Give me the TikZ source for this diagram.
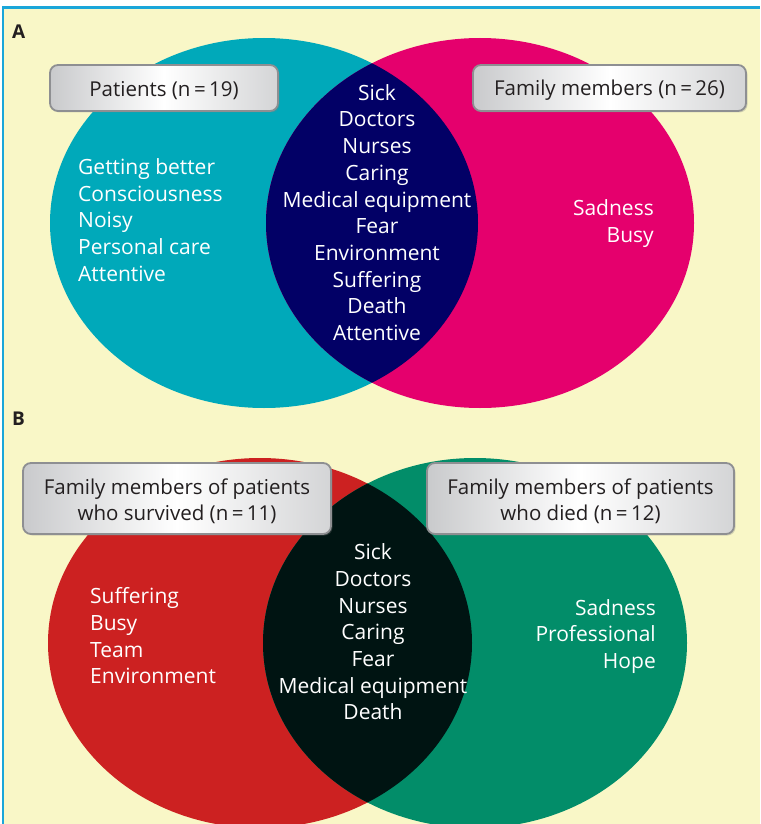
\documentclass[tikz,border=0pt]{standalone}
\usepackage{fontspec}
\setmainfont{Open Sans}
\usetikzlibrary{shadows}
\definecolor{bgyellow}{HTML}{F9F7C7}
\definecolor{frameblue}{HTML}{1AA6D9}
\definecolor{teal}{HTML}{00A9BA}
\definecolor{magenta}{HTML}{E5006D}
\definecolor{navy}{HTML}{020066}
\definecolor{redset}{HTML}{CC2121}
\definecolor{greenset}{HTML}{028D69}
\definecolor{darkset}{HTML}{001412}
\definecolor{boxedge}{HTML}{8E8F92}
\definecolor{boxgrey}{HTML}{C9CACC}
\definecolor{boxtext}{HTML}{231F20}
\tikzset{
  x=1pt, y=-1pt,
  labelbox/.style={draw=boxedge, line width=1.8pt, rounded corners=8pt,
    left color=boxgrey, right color=boxgrey!80, middle color=white,
    drop shadow={opacity=0.3, shadow xshift=1.5pt, shadow yshift=-1.5pt},
    text=boxtext, align=center, inner sep=0pt,
    font=\fontsize{20.5}{26}\selectfont},
  settext/.style={text=white, inner sep=0pt, font=\fontsize{21}{26.7}\selectfont},
  panel/.style={font=\fontsize{19}{22}\selectfont\bfseries, text=boxtext, inner sep=0pt}
}
\begin{document}
\begin{tikzpicture}
\useasboundingbox (0,0) rectangle (760,824);
\fill[white] (0,0) rectangle (760,824);
\fill[bgyellow] (2,7) rectangle (760,824);
\draw[frameblue, line width=2.5pt] (3,824) -- (3,7.5) -- (760,7.5);

% Panel A
\node[panel, anchor=base west] (lblA) at (12,39) {A};
\fill[teal] (264,223) ellipse [x radius=214, y radius=185];
\fill[magenta] (480,223) ellipse [x radius=214, y radius=185];
\begin{scope}
  \clip (264,223) ellipse [x radius=214, y radius=185];
  \fill[navy] (480,223) ellipse [x radius=214, y radius=185];
\end{scope}

% Panel B
\node[panel, anchor=base west] (lblB) at (12,425) {B};
\fill[redset] (260,643) ellipse [x radius=212, y radius=185];
\fill[greenset] (475,643) ellipse [x radius=212, y radius=185];
\begin{scope}
  \clip (260,643) ellipse [x radius=212, y radius=185];
  \fill[darkset] (475,643) ellipse [x radius=212, y radius=185];
\end{scope}

% Label boxes
\node[labelbox, minimum width=228, minimum height=46] (boxA1) at (164,88) {\raisebox{-2.5pt}[\height][\depth]{Patients (n\,=\,19)}};
\node[labelbox, minimum width=273, minimum height=46] (boxA2) at (609.5,88) {\raisebox{-2.5pt}[\height][\depth]{Family members (n\,=\,26)}};
\node[labelbox, minimum width=308, minimum height=71] (boxB1) at (177,498.5) {\raisebox{-3.5pt}[\height][\depth]{\begin{tabular}{@{}c@{}}Family members of patients\\who survived (n\,=\,11)\end{tabular}}};
\node[labelbox, minimum width=307, minimum height=71] (boxB2) at (580.5,498.5) {\raisebox{-3.5pt}[\height][\depth]{\begin{tabular}{@{}c@{}}Family members of patients\\who died (n\,=\,12)\end{tabular}}};

% Set texts A
\node[settext, align=center] (textAmid) at (377,212.5) {Sick\\Doctors\\Nurses\\Caring\\Medical equipment\\Fear\\Environment\\Suffering\\Death\\Attentive};
\node[settext, align=left, anchor=west] (textAleft) at (78,220) {Getting better\\Consciousness\\Noisy\\Personal care\\Attentive};
\node[settext, align=right, anchor=east] (textAright) at (654,223.5) {Sadness\\Busy};

% Set texts B
\node[settext, align=center] (textBmid) at (373,632) {Sick\\Doctors\\Nurses\\Caring\\Fear\\Medical equipment\\Death};
\node[settext, align=left, anchor=west] (textBleft) at (90,636) {Suffering\\Busy\\Team\\Environment};
\node[settext, align=right, anchor=east] (textBright) at (656,636.5) {Sadness\\Professional\\Hope};
\end{tikzpicture}
\end{document}
